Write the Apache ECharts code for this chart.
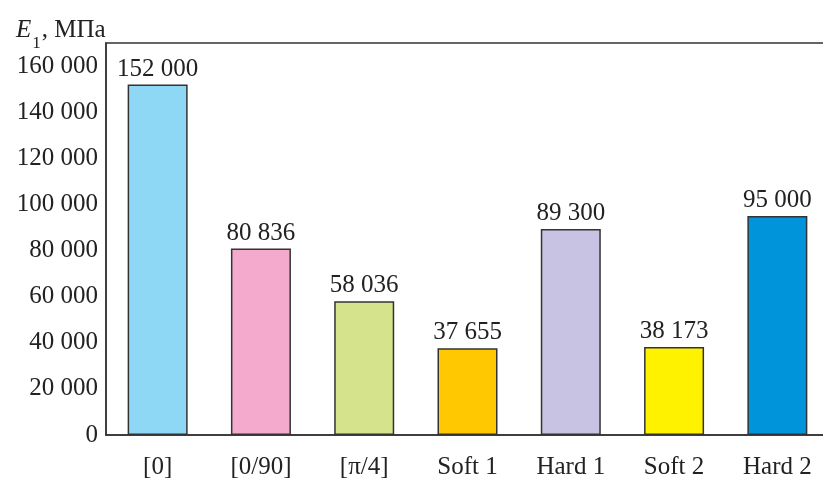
<!DOCTYPE html>
<html>
<head>
<meta charset="utf-8">
<script src="https://cdn.jsdelivr.net/npm/echarts@6/dist/echarts.min.js"></script>
<style>
  html, body { margin: 0; padding: 0; background: #fff; }
  #chart { width: 823px; height: 480px; }
</style>
</head>
<body>
<div id="chart"></div>
<script>
// data
const categories = ['[0]', '[0/90]', '[π/4]', 'Soft 1', 'Hard 1', 'Soft 2', 'Hard 2']
const values = [152000, 80836, 58036, 37655, 89300, 38173, 95000]
const barColors = ['#8fd8f5', '#f4aacd', '#d4e38c', '#ffc800', '#c8c3e2', '#fff200', '#0095da']
const yTicks = [0, 20000, 40000, 60000, 80000, 100000, 120000, 140000, 160000]

const fontFamily = '"Liberation Serif", "Times New Roman", serif'
const ink = '#333'
// 152000 -> "152 000"
const fmt = (v) => String(v).replace(/\B(?=(\d{3})+(?!\d))/g, ' ')

const chart = echarts.init(document.getElementById('chart'))
const option = {
  animation: false,
  textStyle: { fontFamily },
  title: {
    left: 11,
    top: 6,
    text: '{i|E}{s|1}{n|, МПа}',
    textStyle: {
      rich: {
        i: { fontFamily, fontStyle: 'italic', fontWeight: 'normal', fontSize: 25, color: '#222', lineHeight: 32, verticalAlign: 'bottom' },
        s: { fontFamily, fontWeight: 'normal', fontSize: 17, color: '#222', lineHeight: 32, verticalAlign: 'bottom', padding: [0, 1, -9, 1] },
        n: { fontFamily, fontWeight: 'normal', fontSize: 25, color: '#222', lineHeight: 32, verticalAlign: 'bottom' }
      }
    }
  },
  grid: {
    left: 106,
    right: -6,
    top: 43,
    bottom: 45,
    outerBoundsMode: 'none',
    show: true,
    borderColor: ink,
    borderWidth: 1.5
  },
  xAxis: {
    type: 'category',
    data: categories,
    axisLine: { lineStyle: { color: ink, width: 1.5 } },
    axisTick: { inside: true, length: 8, lineStyle: { color: ink, width: 1.2 } },
    axisLabel: { color: '#222', fontFamily, fontSize: 25, margin: 20 }
  },
  yAxis: {
    type: 'value',
    min: 0,
    max: 170000,
    interval: 20000,
    splitLine: { show: false },
    axisLine: { show: true, lineStyle: { color: ink, width: 1.5 } },
    axisTick: { inside: true, length: 6, lineStyle: { color: ink, width: 1.2 } },
    axisLabel: {
      color: '#222',
      fontFamily,
      fontSize: 25,
      margin: 8,
      showMaxLabel: false,
      formatter: (v) => (yTicks.includes(v) ? fmt(v) : '')
    }
  },
  series: [
    {
      type: 'bar',
      data: values.map((v, i) => ({ value: v, itemStyle: { color: barColors[i] } })),
      barWidth: 60,
      itemStyle: { borderColor: ink, borderWidth: 1.5 },
      label: {
        show: true,
        position: 'top',
        distance: 3,
        color: '#222',
        fontFamily,
        fontSize: 25,
        formatter: (p) => fmt(p.value)
      }
    }
  ]
}
chart.setOption(option)
</script>
</body>
</html>
